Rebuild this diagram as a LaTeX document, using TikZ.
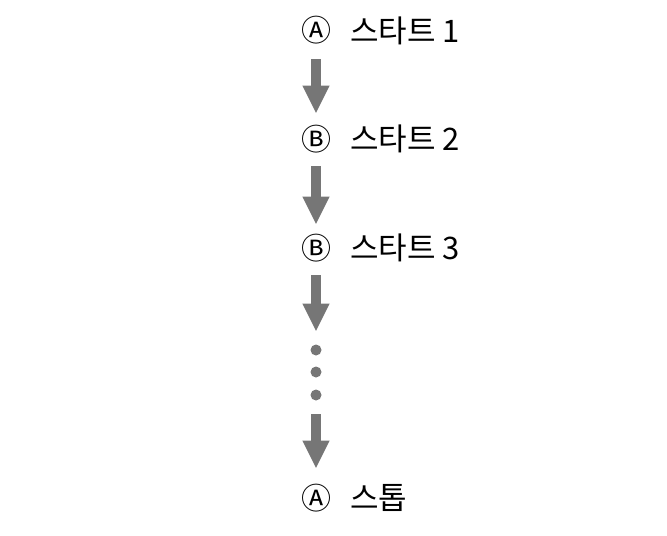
\documentclass[tikz,border=0pt]{standalone}
\usepackage{fontspec}
\setmainfont{Noto Sans CJK KR}
\usetikzlibrary{arrows.meta}
\definecolor{flowgray}{RGB}{118,118,118}
\tikzset{
  stepmark/.style={inner sep=0pt, text height=11pt, text depth=0pt, font=\fontsize{15}{17}\selectfont},
  steptext/.style={anchor=west, inner sep=0pt, font=\fontsize{15.5}{17}\selectfont},
  flow/.style={draw=flowgray, line width=5pt, -{Triangle[width=12.5pt, length=14pt]}},
  seqdot/.style={circle, fill=flowgray, inner sep=0pt, minimum size=5.5pt}
}
\begin{document}
\begin{tikzpicture}[x=0.5pt, y=-0.5pt]
\useasboundingbox (0,0) rectangle (667,535);
\node [stepmark] (s1) at (316,31) {Ⓐ};
\node [steptext] (t1) at (350,31) {스타트 1};
\node [stepmark] (s2) at (316,139) {Ⓑ};
\node [steptext] (t2) at (350,139) {스타트 2};
\node [stepmark] (s3) at (316,248) {Ⓑ};
\node [steptext] (t3) at (350,248) {스타트 3};
\node [seqdot] (d1) at (316,350) {};
\node [seqdot] (d2) at (316,372) {};
\node [seqdot] (d3) at (316,395) {};
\node [stepmark] (s4) at (316,498) {Ⓐ};
\node [steptext] (t4) at (350,498) {스톱};
\draw [flow, shorten <=8.5pt, shorten >=7pt] (s1) -- (s2);
\draw [flow, shorten <=8pt, shorten >=6pt] (s2) -- (s3);
\draw [flow, shorten <=8pt, shorten >=6.25pt] (s3) -- (d1);
\draw [flow, shorten <=6.75pt, shorten >=9pt] (d3) -- (s4);
\end{tikzpicture}
\end{document}
